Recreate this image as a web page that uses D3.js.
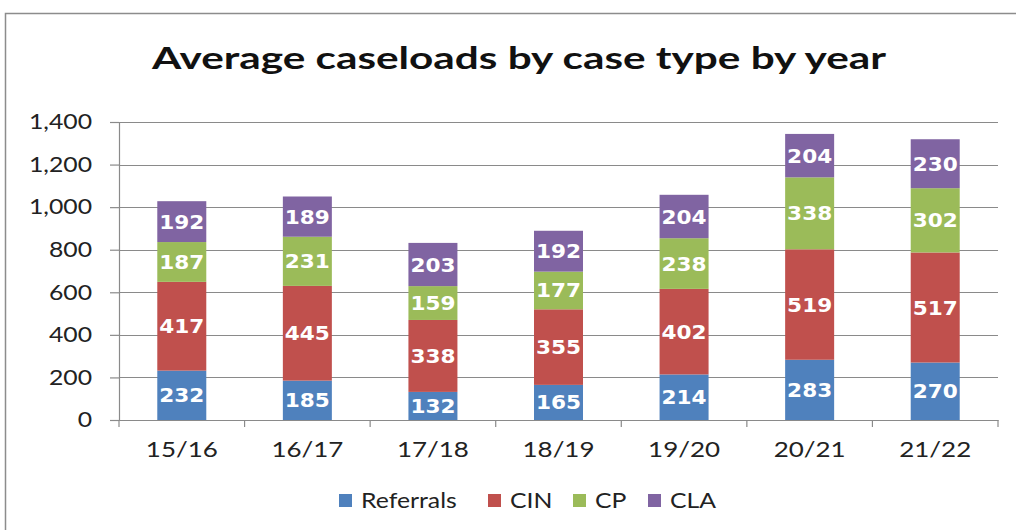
<!DOCTYPE html>
<html>
<head>
<meta charset="utf-8">
<script src="https://cdn.jsdelivr.net/npm/d3@7"></script>
<style>
  body { margin: 0; background: #fff; }
  svg { display: block; }
</style>
</head>
<body>
<div class="chart"></div>
<script>
var years = ["15/16", "16/17", "17/18", "18/19", "19/20", "20/21", "21/22"]
var seriesNames = ["Referrals", "CIN", "CP", "CLA"]
var referrals = [232, 185, 132, 165, 214, 283, 270]
var cin = [417, 445, 338, 355, 402, 519, 517]
var cp = [187, 231, 159, 177, 238, 338, 302]
var cla = [192, 189, 203, 192, 204, 204, 230]
var yTicks = [0, 200, 400, 600, 800, 1000, 1200, 1400]

var colors = ["#4f81bd", "#c0504d", "#9bbb59", "#8064a2"]

var width = 1016,
    height = 530,
    margin = {top: 122, right: 18, bottom: 110, left: 119}

// the source picture is stretched sideways, so text gets squeezed wider
var stretch = 1.18

var svg = d3.select(".chart")
  .append("svg")
  .attr("width", width)
  .attr("height", height)

// outer frame
svg.append("rect")
  .attr("x", 5.5).attr("y", 13.5)
  .attr("width", width + 10).attr("height", height + 10)
  .attr("fill", "none")
  .attr("stroke", "#8c8c8c")
  .attr("stroke-width", 1.5)

svg.append("text")
  .attr("x", 519).attr("y", 69)
  .attr("text-anchor", "middle")
  .attr("font-family", "Lato, 'Open Sans', sans-serif")
  .attr("font-weight", "bold")
  .attr("font-size", 31)
  .attr("textLength", 734)
  .attr("lengthAdjust", "spacingAndGlyphs")
  .attr("fill", "#111")
  .text("Average caseloads by case type by year")

var table = years.map(function(y, i) {
  return {year: y, Referrals: referrals[i], CIN: cin[i], CP: cp[i], CLA: cla[i]}
})

var x = d3.scaleBand()
  .domain(years)
  .range([margin.left, width - margin.right])

var y = d3.scaleLinear()
  .domain([0, 1400])
  .range([height - margin.bottom, margin.top])

// gridlines
svg.append("g")
  .selectAll("line")
  .data(yTicks.slice(1))
  .enter().append("line")
  .attr("x1", margin.left).attr("x2", width - margin.right)
  .attr("y1", function(d) { return Math.round(y(d)) + 0.5 })
  .attr("y2", function(d) { return Math.round(y(d)) + 0.5 })
  .attr("stroke", "#8a8a8a")
  .attr("stroke-width", 1.2)

var stack = d3.stack().keys(seriesNames)
var layers = stack(table)

var barW = 49

var groups = svg.append("g")
  .selectAll("g")
  .data(layers)
  .enter().append("g")
  .attr("fill", function(d, i) { return colors[i] })

groups.selectAll("rect")
  .data(function(d) { return d })
  .enter().append("rect")
  .attr("x", function(d) { return x(d.data.year) + x.bandwidth() / 2 - barW / 2 })
  .attr("y", function(d) { return y(d[1]) })
  .attr("width", barW)
  .attr("height", function(d) { return y(d[0]) - y(d[1]) })

groups.selectAll("text")
  .data(function(d) { return d.map(function(p) { return {p: p, key: d.key} }) })
  .enter().append("text")
  .attr("transform", function(d) {
    var cx = x(d.p.data.year) + x.bandwidth() / 2
    var cy = (y(d.p[0]) + y(d.p[1])) / 2 + 7
    return "translate(" + cx + "," + cy + ") scale(1.08,1)"
  })
  .attr("text-anchor", "middle")
  .attr("font-family", "'DejaVu Sans', Verdana, sans-serif")
  .attr("font-weight", "bold")
  .attr("font-size", 20)
  .attr("fill", "#fff")
  .text(function(d) { return d.p.data[d.key] })

// axes
var yAxis = svg.append("g")
  .attr("transform", "translate(" + margin.left + ",0)")
  .call(d3.axisLeft(y).tickValues(yTicks).tickSize(9).tickFormat(d3.format(",")))
yAxis.select(".domain").attr("stroke", "#8a8a8a").attr("stroke-width", 1.2)
yAxis.selectAll(".tick line").attr("stroke", "#8a8a8a").attr("stroke-width", 1.2)
yAxis.selectAll("text")
  .attr("font-family", "Lato, 'Open Sans', sans-serif")
  .attr("font-size", 21)
  .attr("fill", "#222")
  .attr("x", -27 / stretch)
  .attr("transform", "scale(" + stretch + ",1)")

var xAxis = svg.append("g")
  .attr("transform", "translate(0," + (height - margin.bottom) + ")")
  .call(d3.axisBottom(x).tickSize(0).tickPadding(21))
xAxis.select(".domain").attr("stroke", "#8a8a8a").attr("stroke-width", 1.2)
xAxis.selectAll("text")
  .attr("font-family", "Lato, 'Open Sans', sans-serif")
  .attr("font-size", 22)
  .attr("fill", "#222")
  .attr("transform", "scale(" + stretch + ",1)")

// tick marks between categories
svg.append("g")
  .selectAll("line")
  .data(d3.range(years.length + 1))
  .enter().append("line")
  .attr("x1", function(i) { return margin.left + i * x.step() })
  .attr("x2", function(i) { return margin.left + i * x.step() })
  .attr("y1", height - margin.bottom)
  .attr("y2", height - margin.bottom + 7)
  .attr("stroke", "#8a8a8a")
  .attr("stroke-width", 1.2)

// legend
var legendX = [339, 488, 573, 648]
var legend = svg.append("g")
  .selectAll("g")
  .data(seriesNames)
  .enter().append("g")
  .attr("transform", function(d, i) { return "translate(" + legendX[i] + ",494)" })

legend.append("rect")
  .attr("width", 13).attr("height", 13)
  .attr("fill", function(d, i) { return colors[i] })

legend.append("text")
  .attr("x", 22 / stretch).attr("y", 14)
  .attr("transform", "scale(" + stretch + ",1)")
  .attr("font-family", "Lato, 'Open Sans', sans-serif")
  .attr("font-size", 21)
  .attr("fill", "#222")
  .text(function(d) { return d })
</script>
</body>
</html>
